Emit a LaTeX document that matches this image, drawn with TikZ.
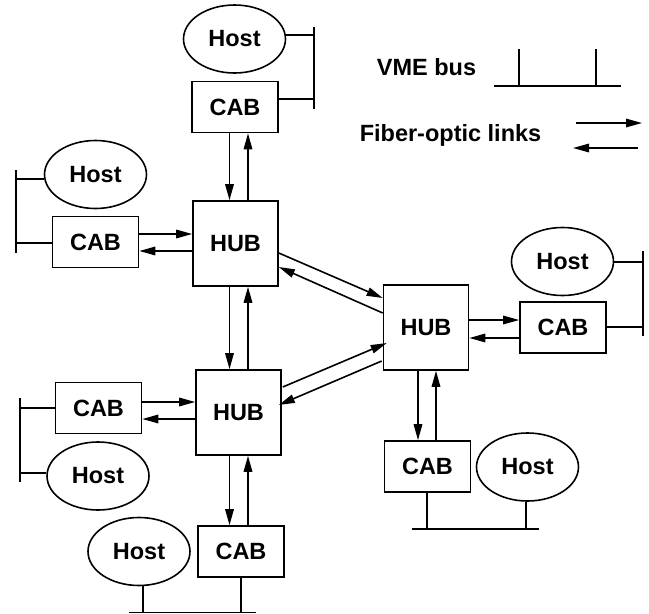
\documentclass[tikz,border=0pt]{standalone}
\usepackage{fontspec}
\setmainfont{Liberation Sans}
\usetikzlibrary{arrows.meta,shapes.geometric}

\begin{document}
\begin{tikzpicture}[x=1pt,y=-1pt,
  every node/.style={font=\fontsize{23.5}{26}\selectfont\bfseries, inner sep=0pt, line width=1.6pt},
  cabbox/.style={draw, minimum width=86pt, minimum height=51pt},
  hubbox/.style={draw, minimum width=85pt, minimum height=85pt},
  hostnode/.style={draw, ellipse, minimum width=102pt, minimum height=68pt},
  link/.style={-{Triangle[length=16pt,width=8.5pt]}, line width=1.6pt},
  bus/.style={line width=1.6pt}]
\useasboundingbox (0,0) rectangle (649,614);

% hubs, cabs and hosts
\node[hostnode] (host1) at (234.5,39)    {Host};
\node[cabbox]   (cab1)  at (235,107)     {CAB};
\node[hubbox]   (hub1)  at (235.5,243.5) {HUB};
\node[hostnode] (host2) at (95.5,174.5)  {Host};
\node[cabbox]   (cab2)  at (95.5,242)    {CAB};
\node[hubbox]   (hub2)  at (426,327.5)   {HUB};
\node[cabbox]   (cab3)  at (563,327.5)   {CAB};
\node[hostnode] (host3) at (562.5,261.5) {Host};
\node[hubbox]   (hub3)  at (238.5,412.5) {HUB};
\node[cabbox]   (cab4)  at (98.5,408)    {CAB};
\node[hostnode] (host4) at (98,476)      {Host};
\node[cabbox]   (cab5)  at (241,551.5)   {CAB};
\node[hostnode] (host5) at (139,551.5)   {Host};
\node[cabbox]   (cab6)  at (427.5,466.5) {CAB};
\node[hostnode] (host6) at (527.5,467)   {Host};

% legend labels
\node (vmelabel)   at (426.5,67)  {VME bus};
\node (fiberlabel) at (450.5,135) {Fiber-optic links};

% lanes for the paired fiber links
\coordinate (laneA) at (229.5,0);
\coordinate (laneB) at (248,0);
\coordinate (laneC) at (418,0);
\coordinate (laneD) at (436,0);
\coordinate (row1a) at (0,234);
\coordinate (row1b) at (0,251);
\coordinate (row2a) at (0,320);
\coordinate (row2b) at (0,338);
\coordinate (row3a) at (0,402);
\coordinate (row3b) at (0,419);

% vertical fiber links
\draw[link] (cab1.south -| laneA) -- (hub1.north -| laneA);
\draw[link] (hub1.north -| laneB) -- (cab1.south -| laneB);
\draw[link] (hub1.south -| laneA) -- (hub3.north -| laneA);
\draw[link] (hub3.north -| laneB) -- (hub1.south -| laneB);
\draw[link] (hub3.south -| laneA) -- (cab5.north -| laneA);
\draw[link] (cab5.north -| laneB) -- (hub3.south -| laneB);
\draw[link] (hub2.south -| laneC) -- (cab6.north -| laneC);
\draw[link] (cab6.north -| laneD) -- (hub2.south -| laneD);

% horizontal fiber links
\draw[link] (cab2.east |- row1a) -- (hub1.west |- row1a);
\draw[link] (hub1.west |- row1b) -- (cab2.east |- row1b);
\draw[link] (hub2.east |- row2a) -- (cab3.west |- row2a);
\draw[link] (cab3.west |- row2b) -- (hub2.east |- row2b);
\draw[link] (cab4.east |- row3a) -- (hub3.west |- row3a);
\draw[link] (hub3.west |- row3b) -- (cab4.east |- row3b);

% diagonal hub-to-hub links
\draw[link] ([yshift=-9.5pt]hub1.east) -- ([yshift=29.5pt]hub2.west);
\draw[link] ([yshift=14.5pt]hub2.west) -- ([yshift=-23.5pt]hub1.east);
\draw[link] ([xshift=1pt,yshift=25.5pt]hub3.east) -- ([xshift=4pt,yshift=-15.5pt]hub2.west);
\draw[link] ([xshift=-1pt,yshift=-33.5pt]hub2.west) -- ([xshift=-3pt,yshift=7.5pt]hub3.east);

% VME buses
\coordinate (bus1t) at (314,27);  \coordinate (bus1b) at (314,109);
\coordinate (h1) at (0,35);       \coordinate (c1) at (0,99);
\draw[bus] (bus1t) -- (bus1b);
\draw[bus] (host1.east |- h1) -- (bus1t |- h1);
\draw[bus] (cab1.east |- c1) -- (bus1t |- c1);

\coordinate (bus2t) at (16,170);  \coordinate (bus2b) at (16,253);
\coordinate (h2) at (0,179);      \coordinate (c2) at (0,243);
\draw[bus] (bus2t) -- (bus2b);
\draw[bus] (host2.west |- h2) -- (bus2t |- h2);
\draw[bus] (cab2.west |- c2) -- (bus2t |- c2);

\coordinate (bus3t) at (643,251); \coordinate (bus3b) at (643,336);
\coordinate (h3) at (0,262);      \coordinate (c3) at (0,327);
\draw[bus] (bus3t) -- (bus3b);
\draw[bus] (host3.east |- h3) -- (bus3t |- h3);
\draw[bus] (cab3.east |- c3) -- (bus3t |- c3);

\coordinate (bus4t) at (20,398);  \coordinate (bus4b) at (20,482);
\coordinate (c4) at (0,408);      \coordinate (h4) at (0,473);
\draw[bus] (bus4t) -- (bus4b);
\draw[bus] (cab4.west |- c4) -- (bus4t |- c4);
\draw[bus] (host4.west |- h4) -- (bus4t |- h4);

\coordinate (bus5l) at (129,612.5); \coordinate (bus5r) at (256,612.5);
\coordinate (h5) at (143,0);      \coordinate (c5) at (241,0);
\draw[bus] (bus5l) -- (bus5r);
\draw[bus] (host5.south -| h5) -- (bus5l -| h5);
\draw[bus] (cab5.south -| c5) -- (bus5l -| c5);

\coordinate (bus6l) at (412,529); \coordinate (bus6r) at (539,529);
\coordinate (c6) at (427,0);      \coordinate (h6) at (526,0);
\draw[bus] (bus6l) -- (bus6r);
\draw[bus] (cab6.south -| c6) -- (bus6l -| c6);
\draw[bus] (host6.south -| h6) -- (bus6l -| h6);

% legend symbols
\coordinate (lgL) at (494,86);  \coordinate (lgR) at (621,86);
\coordinate (lgT1) at (519,49); \coordinate (lgT2) at (596,49);
\draw[bus] (lgL) -- (lgR);
\draw[bus] (lgT1) -- (lgT1 |- lgL);
\draw[bus] (lgT2) -- (lgT2 |- lgL);
\coordinate (fa1) at (576,123); \coordinate (fa2) at (642,123);
\coordinate (fb1) at (638,148); \coordinate (fb2) at (573,148);
\draw[link] (fa1) -- (fa2);
\draw[link] (fb1) -- (fb2);
\end{tikzpicture}
\end{document}
